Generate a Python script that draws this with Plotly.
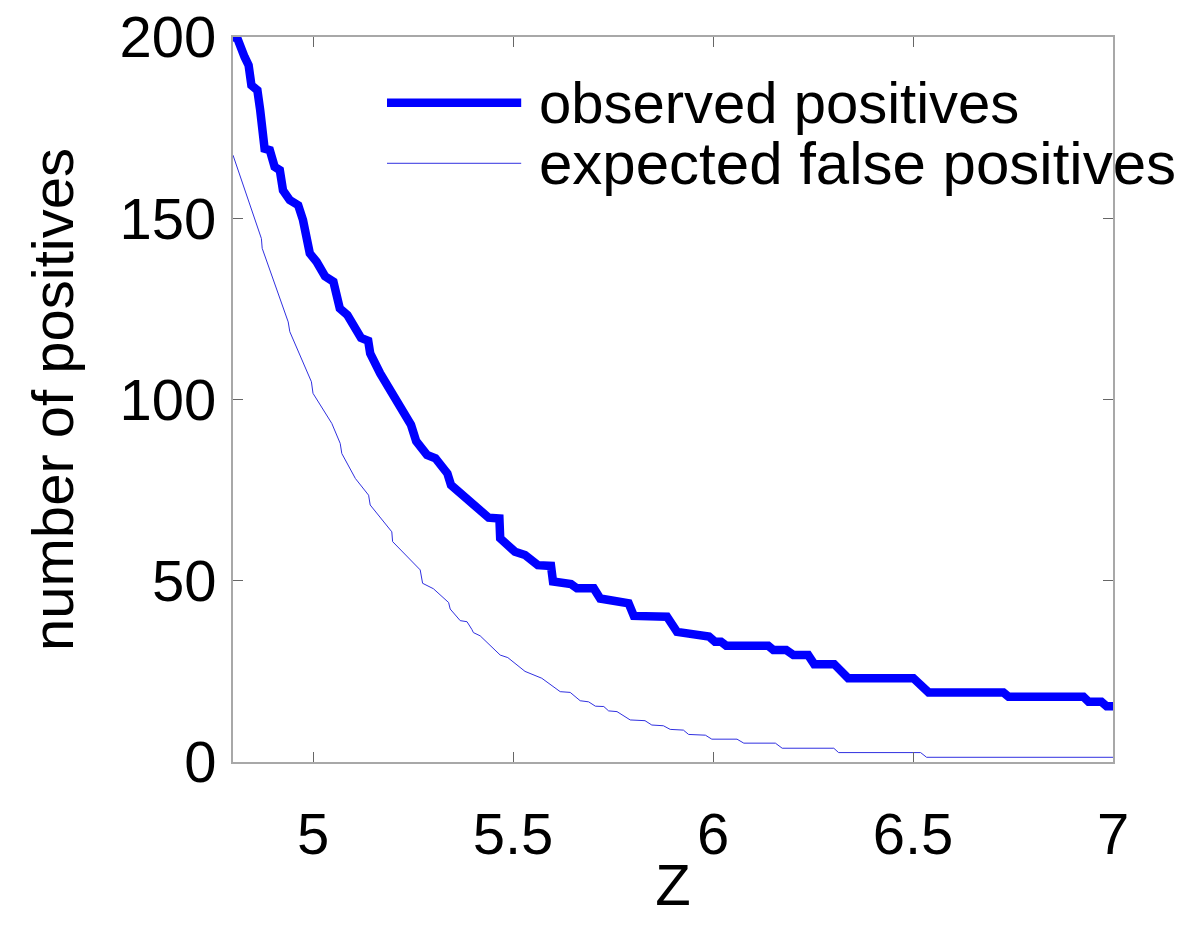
import plotly.graph_objects as go

# ---- data ----
z_obs = [4.800, 4.811, 4.829, 4.839, 4.846, 4.861, 4.868, 4.874, 4.879, 4.892,
         4.904, 4.917, 4.925, 4.942, 4.963, 4.975, 4.992, 5.009, 5.030, 5.051,
         5.067, 5.086, 5.120, 5.138, 5.143, 5.168, 5.197, 5.220, 5.245, 5.258,
         5.285, 5.306, 5.336, 5.345, 5.385, 5.410, 5.426, 5.439, 5.466, 5.468,
         5.505, 5.530, 5.562, 5.595, 5.600, 5.618, 5.645, 5.660, 5.702, 5.718,
         5.789, 5.802, 5.885, 5.910, 5.939, 5.990, 6.005, 6.020, 6.033, 6.138,
         6.151, 6.183, 6.201, 6.238, 6.253, 6.303, 6.338, 6.501, 6.539, 6.726,
         6.739, 6.926, 6.939, 6.971, 6.984, 7.000]
n_obs = [200.0, 199.6, 194.5, 192.2, 186.7, 185.3, 179.8, 174.3, 169.2, 168.8,
         164.2, 163.3, 157.7, 155.0, 153.6, 149.5, 140.3, 138.0, 134.0, 132.5,
         125.1, 123.3, 117.0, 116.2, 112.7, 107.2, 101.7, 98.5, 93.0, 88.5,
         84.7, 83.8, 79.6, 76.4, 72.5, 69.8, 69.0, 67.4, 67.2, 61.7,
         58.0, 57.1, 54.3, 54.1, 49.8, 49.3, 49.1, 47.9, 47.9, 45.1,
         43.8, 40.3, 40.1, 35.9, 35.5, 34.6, 33.2, 33.2, 32.1, 32.1,
         30.9, 30.9, 29.5, 29.5, 27.0, 27.0, 23.1, 23.1, 19.2, 19.2,
         18.0, 18.0, 16.6, 16.6, 15.4, 15.4]

z_exp = [4.800, 4.871, 4.873, 4.938, 4.942, 4.996, 5.000, 5.047, 5.068, 5.072,
         5.106, 5.139, 5.143, 5.197, 5.199, 5.243, 5.268, 5.274, 5.301, 5.339,
         5.343, 5.368, 5.385, 5.397, 5.401, 5.418, 5.468, 5.487, 5.503, 5.530,
         5.572, 5.602, 5.618, 5.643, 5.668, 5.689, 5.706, 5.727, 5.739, 5.760,
         5.793, 5.830, 5.847, 5.876, 5.893, 5.926, 5.939, 5.981, 5.997, 6.060,
         6.077, 6.156, 6.173, 6.302, 6.314, 6.519, 6.534, 7.000]
n_exp = [167.4, 144.4, 141.7, 121.4, 118.7, 104.9, 101.7, 93.4, 87.9, 85.1,
         78.2, 73.6, 70.9, 63.5, 60.8, 55.7, 53.0, 49.3, 47.8, 44.0,
         42.2, 39.0, 38.7, 36.6, 35.7, 34.8, 29.5, 28.8, 27.3, 25.0,
         23.1, 20.8, 19.4, 19.2, 16.9, 16.6, 15.4, 15.3, 14.1, 13.9,
         11.6, 11.4, 10.2, 10.0, 9.0, 8.8, 7.6, 7.4, 6.3, 6.3,
         5.2, 5.2, 3.8, 3.8, 2.6, 2.6, 1.3, 1.3]

x_ticks = [5, 5.5, 6, 6.5, 7]
x_tick_labels = ["5", "5.5", "6", "6.5", "7"]
y_ticks = [0, 50, 100, 150, 200]
y_tick_labels = ["0", "50", "100", "150", "200"]

series_names = ["observed positives", "expected false positives"]

FONT = "Liberation Sans, Arial, Helvetica, sans-serif"
FS = 58

fig = go.Figure()
fig.add_trace(go.Scatter(x=z_obs, y=n_obs, mode="lines", name=series_names[0],
                         line=dict(color="#0000ff", width=8.5), showlegend=False))
fig.add_trace(go.Scatter(x=z_exp, y=n_exp, mode="lines", name=series_names[1],
                         line=dict(color="#3030e0", width=1), showlegend=False))

# legend drawn manually (long sample lines, no box)
legend_rows = [(0.9094, 8.5, "#0000ff"), (0.8258, 1, "#3030e0")]
legend_font_sizes = [58, 60]
for (yy, w, c), name, fs in zip(legend_rows, series_names, legend_font_sizes):
    fig.add_shape(type="line", xref="paper", yref="paper",
                  x0=0.175, x1=0.3275, y0=yy, y1=yy,
                  line=dict(color=c, width=w))
    fig.add_annotation(xref="paper", yref="paper", x=0.346, y=yy,
                       text=name, showarrow=False, xanchor="left", yanchor="middle",
                       font=dict(family=FONT, size=fs, color="black"))

axis_common = dict(showline=True, linecolor="#a8a8a8", linewidth=2, mirror="ticks",
                   ticks="inside", ticklen=10, tickwidth=1, tickcolor="#666666",
                   showgrid=False, zeroline=False, automargin=False,
                   ticklabeloverflow="allow",
                   tickfont=dict(family=FONT, size=FS, color="black"))

# the page body adds an 8px offset, so the figure is 1192x919 with margins shifted
fig.update_layout(
    width=1192, height=919,
    margin=dict(l=225, r=87, t=29, b=165),
    paper_bgcolor="white", plot_bgcolor="white",
    xaxis=dict(range=[4.8, 7], tickvals=x_ticks, ticktext=x_tick_labels,
               title=dict(text="Z", font=dict(family=FONT, size=FS, color="black"), standoff=0),
               ticklabelstandoff=20, **axis_common),
    yaxis=dict(range=[0, 200], tickvals=y_ticks, ticktext=y_tick_labels,
               title=dict(text="number of positives", font=dict(family=FONT, size=FS, color="black"), standoff=27),
               ticklabelstandoff=3, **axis_common),
)

fig.write_html("out.html")
